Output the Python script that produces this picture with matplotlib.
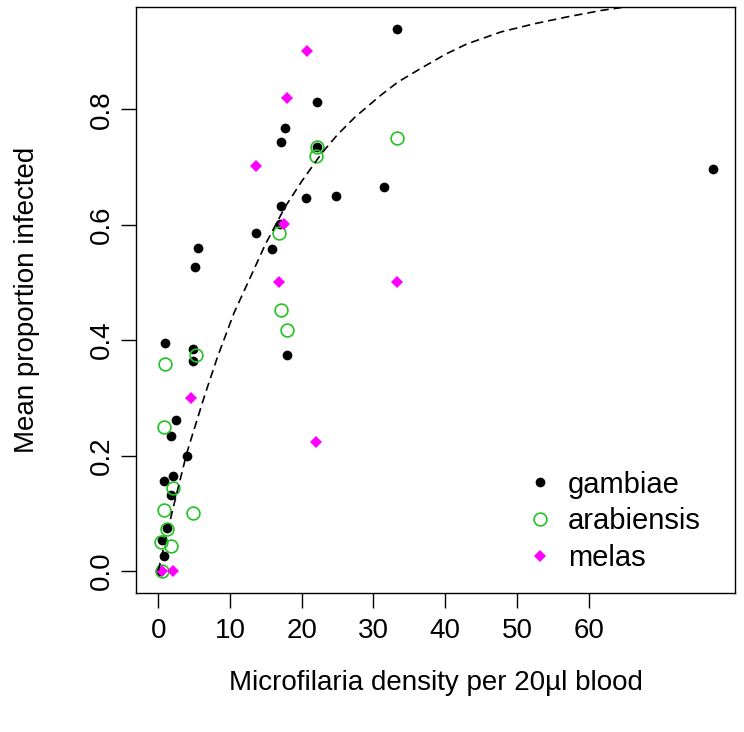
import numpy as np
import matplotlib
matplotlib.use("Agg")
import matplotlib.pyplot as plt

plt.rcParams['font.family'] = ['Liberation Sans', 'DejaVu Sans']

# ── data ────────────────────────────────────────────────────────────────────
gambiae_x = [33.3, 22.1, 17.7, 17.1, 22.1, 31.5, 24.8, 20.6, 17.1, 17.0,
             13.6, 15.9, 17.9, 77.3, 5.6, 5.1, 1.0, 4.9, 4.8, 2.5,
             1.8, 4.0, 2.0, 0.8, 1.8, 1.3, 0.5, 0.8, 0.3]
gambiae_y = [0.939, 0.812, 0.768, 0.743, 0.734, 0.666, 0.650, 0.647, 0.632, 0.602,
             0.586, 0.558, 0.374, 0.697, 0.560, 0.526, 0.395, 0.384, 0.363, 0.262,
             0.234, 0.200, 0.165, 0.156, 0.132, 0.074, 0.053, 0.026, 0.0]

arab_x = [33.3, 22.1, 22.0, 16.9, 17.1, 17.9, 5.3, 1.0, 0.8, 2.0,
          0.8, 4.8, 1.3, 0.4, 1.8, 0.5]
arab_y = [0.750, 0.734, 0.719, 0.585, 0.452, 0.417, 0.374, 0.358, 0.249, 0.143,
          0.106, 0.100, 0.072, 0.050, 0.043, 0.0]

melas_x = [20.7, 17.9, 13.6, 17.6, 16.8, 33.3, 22.0, 4.6, 0.5, 2.0]
melas_y = [0.901, 0.819, 0.701, 0.601, 0.500, 0.500, 0.223, 0.300, 0.0, 0.0]

# fitted curve (dashed)
curve_x = [0, 2, 4, 6.5, 8.3, 10.6, 13, 14.9, 17.7, 20, 22.8, 25, 27.4, 31,
           33.4, 36.5, 40, 43, 47.8, 52.4, 57, 61.7, 65]
curve_y = [0.0, 0.105, 0.205, 0.305, 0.372, 0.448, 0.513, 0.565, 0.631, 0.675,
           0.724, 0.756, 0.786, 0.824, 0.847, 0.870, 0.895, 0.913, 0.934, 0.948,
           0.96, 0.971, 0.977]

x_ticks = [0, 10, 20, 30, 40, 50, 60]
y_ticks = [0.0, 0.2, 0.4, 0.6, 0.8]

GREEN = '#22c322'
MAGENTA = '#ff00ff'
FS = 20

fig = plt.figure(figsize=(7.44, 7.32), dpi=100)
ax = fig.add_axes([136/744, 1 - 592.7/732, 599/744, 585.4/732])

ax.plot(gambiae_x, gambiae_y, 'o', color='black', ms=7.0, mew=0, label='gambiae')
ax.plot(arab_x, arab_y, 'o', mfc='none', mec=GREEN, ms=9.2, mew=1.2, label='arabiensis')
ax.plot(melas_x, melas_y, 'D', color=MAGENTA, ms=6.5, mew=0, label='melas')
ax.plot(curve_x, curve_y, color='black', lw=1.2, ls=(0, (5, 3)))

# R-style default ranges (4% padding)
ax.set_xlim(-3.09, 80.39)
ax.set_ylim(-0.0376, 0.9766)
ax.set_xticks(x_ticks)
ax.set_xticklabels([str(v) for v in x_ticks])
ax.set_yticks(y_ticks)
ax.set_yticklabels([f'{v:.1f}' for v in y_ticks])
ax.tick_params(axis='both', length=11, width=1.0, labelsize=FS)
ax.tick_params(axis='x', pad=7)
ax.tick_params(axis='y', pad=4, labelrotation=90)
for lab in ax.get_yticklabels():
    lab.set_va('center')
for sp in ax.spines.values():
    sp.set_linewidth(1.0)

ax.set_xlabel('Microfilaria density per 20\u00b5l blood', fontsize=FS, va='center')
ax.xaxis.set_label_coords(0.5, -0.154)
ax.set_ylabel('Mean proportion infected', fontsize=FS, va='center')
ax.yaxis.set_label_coords(-0.182, 0.5)

ax.legend(loc='center left', bbox_to_anchor=(0.626, 0.122), frameon=False,
          fontsize=21, handlelength=1.0, handletextpad=0.45, labelspacing=0.3,
          borderpad=0)

fig.savefig('out.png', dpi=100)
